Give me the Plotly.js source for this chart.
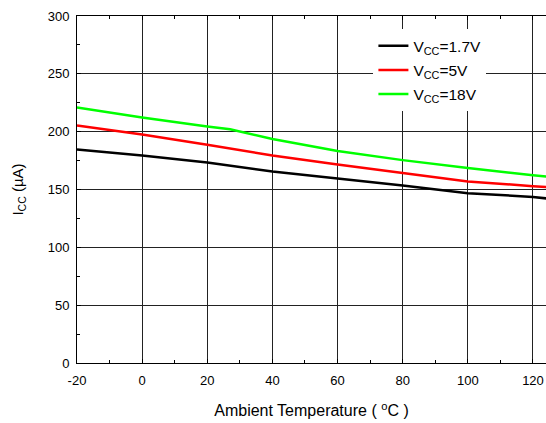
<!DOCTYPE html>
<html>
<head>
<meta charset="utf-8">
<script src="https://cdn.plot.ly/plotly-3.0.1.min.js"></script>
<style>html,body{margin:0;padding:0;background:#fff;}#chart{width:546px;height:423px;}</style>
</head>
<body>
<div id="chart"></div>
<script>
const seriesNames = ["V<sub>CC</sub>=1.7V", "V<sub>CC</sub>=5V", "V<sub>CC</sub>=18V"];
const tempsBlack = [-20, 0, 20, 40, 60, 80, 100, 120, 125];
const iccBlack   = [184.6, 179.4, 173.4, 165.6, 159.5, 153.5, 146.8, 143.6, 142.0];
const tempsRed   = [-20, 0, 20, 40, 60, 80, 100, 120, 125];
const iccRed     = [205.4, 197.6, 188.6, 179.4, 171.7, 164.4, 157.0, 152.9, 152.0];
const tempsGreen = [-20, 0, 20, 27, 40, 60, 80, 100, 120, 125];
const iccGreen   = [221.0, 212.3, 204.5, 202.0, 193.6, 183.2, 175.4, 168.5, 162.4, 161.0];
const xTicks = [-20, 0, 20, 40, 60, 80, 100, 120];
const yTicks = [0, 50, 100, 150, 200, 250, 300];

const colors = ["#000000", "#ff0000", "#00ff00"];
const xs = [tempsBlack, tempsRed, tempsGreen];
const ys = [iccBlack, iccRed, iccGreen];
const traces = xs.map((x, i) => ({
  x: x, y: ys[i], name: seriesNames[i], type: "scatter", mode: "lines",
  legendgroup: "g" + i,
  line: {color: colors[i], width: 2.5}
}));

const FONT = "Liberation Sans, Arial, sans-serif";
const axisFont = {family: FONT, size: 13, color: "#000"};
const layout = {
  width: 546, height: 423,
  margin: {l: 77, r: 0, t: 16, b: 60},
  paper_bgcolor: "#fff", plot_bgcolor: "#fff",
  font: {family: FONT, color: "#000"},
  showlegend: true,
  legend: {
    x: 0.632, y: 0.962, xanchor: "left", yanchor: "top",
    bgcolor: "#fff", borderwidth: 0,
    font: {family: FONT, size: 15.5, color: "#000"},
    traceorder: "grouped", tracegroupgap: 1
  },
  xaxis: {
    range: [-20, 124], tickvals: xTicks, ticktext: xTicks.map(String),
    ticks: "inside", ticklen: 4, tickcolor: "#000", ticklabelstandoff: 5,
    showline: true, linecolor: "#000", linewidth: 1, mirror: "allticks",
    showgrid: true, gridcolor: "#222", gridwidth: 1, zeroline: false,
    minor: {dtick: 10, tick0: 0, ticks: "inside", ticklen: 3, tickcolor: "#000", showgrid: false},
    tickfont: axisFont,
    title: {text: "Ambient Temperature ( <sup>o</sup>C )", font: {family: FONT, size: 16, color: "#000"}, standoff: 18}
  },
  yaxis: {
    range: [0, 300], tickvals: yTicks, ticktext: yTicks.map(String),
    ticks: "inside", ticklen: 4, tickcolor: "#000", ticklabelstandoff: 4,
    showline: true, linecolor: "#000", linewidth: 1, mirror: false,
    showgrid: true, gridcolor: "#222", gridwidth: 1, zeroline: false,
    minor: {dtick: 25, tick0: 0, ticks: "inside", ticklen: 3, tickcolor: "#000", showgrid: false},
    tickfont: axisFont,
    title: {text: "I<sub>CC</sub> (µA)", font: {family: FONT, size: 15, color: "#000"}, standoff: 20}
  }
};
Plotly.newPlot("chart", traces, layout, {staticPlot: true, displayModeBar: false});
</script>
</body>
</html>
